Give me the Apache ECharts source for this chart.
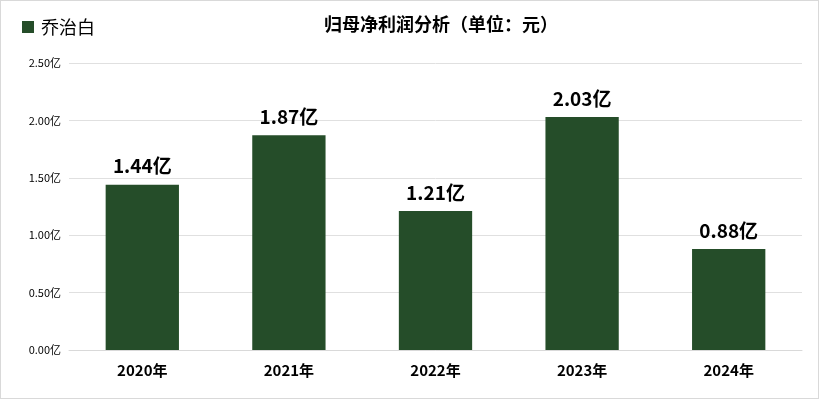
<!DOCTYPE html>
<html>
<head>
<meta charset="utf-8">
<script src="https://cdn.jsdelivr.net/npm/echarts@6/dist/echarts.min.js"></script>
<style>
  html, body { margin: 0; padding: 0; background: #fff; }
  #chart { width: 817px; height: 397px; border: 1px solid #d9d9d9; }
</style>
</head>
<body>
<div id="chart"></div>
<script>
const years = ['2020年', '2021年', '2022年', '2023年', '2024年']
const profit = [1.44, 1.87, 1.21, 2.03, 0.88] // 亿
const seriesName = '乔治白'

const font = '"Noto Sans CJK SC", "Noto Sans", sans-serif'
const myChart = echarts.init(document.getElementById('chart'))

const option = {
  animation: false,
  textStyle: { fontFamily: font },
  title: {
    text: '{b|归母净利润分析}{n|（单位：元）}',
    left: 318,
    top: 9,
    textStyle: {
      rich: {
        b: { fontSize: 18, fontWeight: 'bold', color: '#000', fontFamily: font },
        n: { fontSize: 18, color: '#000', fontFamily: font }
      }
    }
  },
  legend: {
    left: 16,
    top: 12,
    itemWidth: 12,
    itemHeight: 12,
    itemGap: 6,
    icon: 'rect',
    textStyle: { fontSize: 18, color: '#000', padding: [0, 0, 0, 2] },
    data: [seriesName]
  },
  grid: { left: 68, right: 16, top: 62, bottom: 48 },
  xAxis: {
    type: 'category',
    data: years,
    axisTick: { show: false },
    axisLine: { lineStyle: { color: '#d9d9d9' } },
    axisLabel: { fontSize: 15, fontWeight: 'bold', color: '#000', margin: 13 }
  },
  yAxis: {
    type: 'value',
    min: 0,
    max: 2.5,
    interval: 0.5,
    axisLine: { show: false },
    axisTick: { show: false },
    splitLine: { lineStyle: { color: '#e0e0e0' } },
    axisLabel: {
      fontSize: 11,
      color: '#000',
      margin: 8,
      formatter: (v) => v.toFixed(2) + '亿'
    }
  },
  series: [
    {
      name: seriesName,
      type: 'bar',
      data: profit,
      barWidth: '50%',
      itemStyle: { color: '#254d29' },
      label: {
        show: true,
        position: 'top',
        distance: 9,
        fontSize: 19,
        fontWeight: 'bold',
        color: '#000',
        formatter: (p) => p.value.toFixed(2) + '亿'
      }
    }
  ]
}
myChart.setOption(option)
</script>
</body>
</html>
